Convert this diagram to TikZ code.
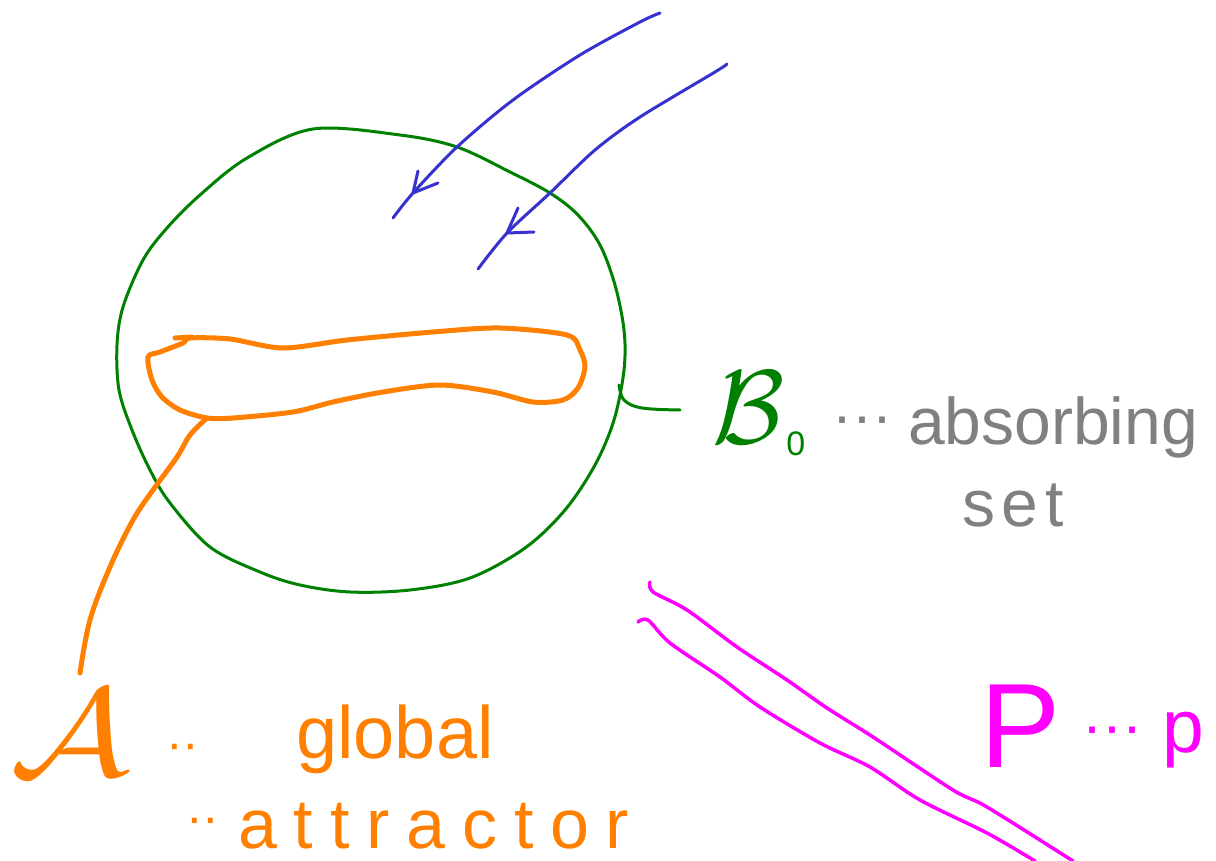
\documentclass[tikz,border=0pt]{standalone}
\usepackage{fontspec}
\setmainfont{Liberation Sans}
\newfontfamily\hand{Liberation Sans}
\newfontfamily\handwide[LetterSpace=24]{Liberation Sans}
\newfontfamily\handmid[LetterSpace=10]{Liberation Sans}
\usetikzlibrary{arrows.meta}
\definecolor{ggreen}{RGB}{0,128,0}
\definecolor{gblue}{RGB}{55,50,205}
\definecolor{gorange}{RGB}{255,128,0}
\definecolor{gmag}{RGB}{255,0,255}
\definecolor{ggray}{RGB}{128,128,128}
\begin{document}
\begin{tikzpicture}[x=1pt,y=-1pt,line cap=round,line join=round,
  greenline/.style={ggreen,line width=3pt},
  blueline/.style={gblue,line width=3pt},
  orangeline/.style={gorange,line width=5pt},
  magline/.style={gmag,line width=3.5pt},
  lbl/.style={inner sep=0pt,anchor=base west}]
\useasboundingbox (0,0) rectangle (1216,861);
\clip (0,0) rectangle (1216,861);

% absorbing set B0 (green closed curve)
\draw[greenline] plot[smooth cycle,tension=0.55] coordinates {
 (247,158) (313,129) (400,135) (457,147) (510,172) (550,193) (578,215)
 (600,245) (615,285) (624,330) (624,370) (614,420) (595,465) (565,510)
 (525,548) (470,578) (410,590) (350,592) (300,585) (260,572) (210,547)
 (170,503) (150,470) (132,430) (119,390) (117,345) (123,307) (143,260)
 (167,228) (200,195)};
\coordinate (gstart) at (619,385);
\coordinate (gtail) at (680,410);
\draw[greenline] plot[smooth,tension=0.6] coordinates {(619,385) (624,400) (642,408) (680,410)};

% global attractor A (orange loop)
\draw[orangeline] plot[smooth cycle,tension=0.5] coordinates {
 (190,338) (230,339) (283,348) (347,340) (433,332) (500,328) (567,335)
 (580,350) (585,367) (578,388) (563,400) (533,402) (493,392) (440,385)
 (383,392) (333,402) (293,412) (233,418) (207,418) (180,410) (162,397)
 (152,380) (148,357) (160,352) (183,343)};
\draw[orangeline] (175,338) -- (192,337);
\coordinate (atop) at (207,418);
\coordinate (abot) at (80,673);
\draw[orangeline] plot[smooth,tension=0.6] coordinates {
 (207,418) (190,435) (177,457) (153,490) (133,520) (110,567) (90,620) (80,673)};

% blue trajectories
\coordinate (b1s) at (660,13);
\coordinate (b1h) at (413,193);
\coordinate (b1e) at (393,218);
\coordinate (b1l) at (418,171);
\coordinate (b1r) at (438,183);
\draw[blueline] plot[smooth,tension=0.5] coordinates {
 (660,13) (640,22) (580,55) (513,100) (457,147) (413,193) (393,218)};
\draw[blueline] (b1l) -- (b1h) -- (b1r);
\coordinate (b2s) at (727,64);
\coordinate (b2h) at (507,233);
\coordinate (b2e) at (478,269);
\coordinate (b2l) at (518,208);
\coordinate (b2r) at (534,232);
\draw[blueline] plot[smooth,tension=0.5] coordinates {
 (727,64) (715,72) (640,117) (595,150) (550,193) (507,233) (478,269)};
\draw[blueline] (b2l) -- (b2h) -- (b2r);

% magenta double line
\draw[magline] plot[smooth,tension=0.5] coordinates {
 (650,582) (653,592) (687,610) (737,647) (787,680) (827,708) (873,737)
 (953,790) (987,807) (1073,861)};
\draw[magline] plot[smooth,tension=0.5] coordinates {
 (638,622) (648,620) (670,643) (720,677) (760,707) (820,743) (870,767)
 (920,800) (987,833) (1035,861)};

% labels
\node[lbl,ggreen] (B0) at (712,443) {\scalebox{10.5}{$\mathcal{B}$}\kern2pt\raisebox{-12pt}{\fontsize{34}{34}\selectfont 0}};
\node[lbl,ggray] (dotsB) at (832,436) {\fontsize{60}{60}\selectfont ···};
\node[lbl,ggray] (absorbing) at (908,444) {\hand\fontsize{66}{66}\selectfont absorbing};
\node[lbl,ggray] (set) at (962,526) {\handmid\fontsize{66}{66}\selectfont set};

\node[lbl,gorange] (A) at (10,775) {\scalebox{15}[12.5]{$\mathcal{A}$}};
\node[lbl,gorange] (dotsA) at (166,760) {\fontsize{50}{50}\selectfont ··};
\node[lbl,gorange] (global) at (296,758) {\hand\fontsize{74}{74}\selectfont global};
\node[lbl,gorange] (dotsA2) at (186,834) {\fontsize{50}{50}\selectfont ··};
\node[lbl,gorange] (attractor) at (238,848) {\handwide\fontsize{70}{70}\selectfont attractor};

\node[lbl,gmag] (P) at (980,767) {\fontsize{120}{120}\selectfont P};
\node[lbl,gmag] (dotsP) at (1082,746) {\fontsize{60}{60}\selectfont ···};
\node[lbl,gmag] (p) at (1162,752) {\fontsize{75}{75}\selectfont p};
\end{tikzpicture}
\end{document}
